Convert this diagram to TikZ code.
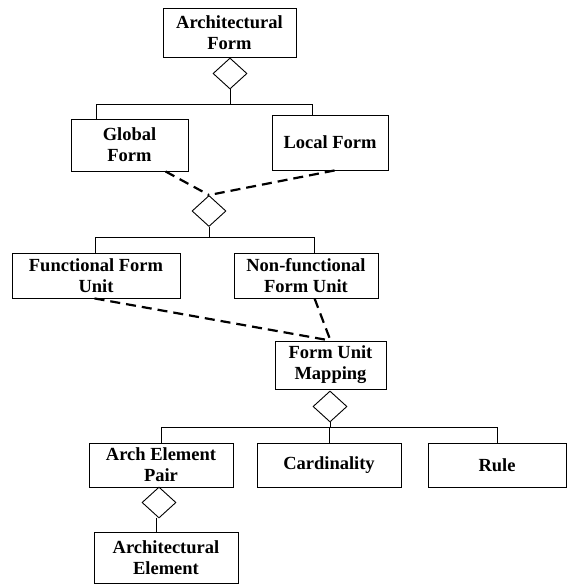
\documentclass[tikz,border=0pt]{standalone}
\usepackage{fontspec}
\setmainfont{Liberation Serif}
\usetikzlibrary{shapes.geometric,calc}
\tikzset{
  box/.style={draw, line width=0.9pt, rectangle, inner sep=0pt, align=center,
              font=\fontsize{18.5}{21}\selectfont\bfseries},
  agg/.style={draw, line width=0.9pt, diamond, inner sep=0pt,
              minimum width=34pt, minimum height=31pt},
  link/.style={line width=0.9pt},
  dep/.style={line width=2.2pt, dash pattern=on 10pt off 6pt},
}
\begin{document}
\begin{tikzpicture}[x=1pt,y=-1pt]
\useasboundingbox (0,0) rectangle (569,584);
% boxes
\node[box, minimum width=133pt, minimum height=49pt] (af)  at (229.5,32.5) {Architectural\\Form};
\node[box, minimum width=117pt, minimum height=52pt] (gf)  at (129.5,145)  {Global\\Form};
\node[box, minimum width=116pt, minimum height=55pt] (lf)  at (330,142.5)  {Local Form};
\node[box, minimum width=168pt, minimum height=45pt] (ffu) at (96,275.5)   {Functional Form\\Unit};
\node[box, minimum width=144pt, minimum height=45pt] (nfu) at (306,275.5)  {Non-functional\\Form Unit};
\node[box, minimum width=111pt, minimum height=48pt] (fum) at (330.5,365)  {Form Unit\\Mapping};
\node[box, minimum width=144pt, minimum height=44pt] (aep) at (161,465)    {Arch Element\\Pair};
\node[box, minimum width=144pt, minimum height=44pt] (card) at (329,465)   {Cardinality};
\node[box, minimum width=138pt, minimum height=44pt] (rule) at (497,465)   {Rule};
\node[box, minimum width=144pt, minimum height=51pt] (ae)  at (166,557.5)  {Architectural\\Element};
% aggregation diamonds
\node[agg] (d1) at (230,73.5) {};
\node[agg] (d2) at (209,211) {};
\node[agg] (d3) at (330,406.5) {};
\node[agg] (d4) at (159,502.5) {};
% tree connectors
\coordinate (b1) at (230,104);
\coordinate (b2) at (209,237);
\coordinate (b3) at (330,427);
\draw[link] (d1.south) -- (b1);
\draw[link] (b1) -| ([xshift=26pt]gf.north west);
\draw[link] (b1) -| ([xshift=41pt]lf.north west);
\draw[link] (d2.south) -- (b2);
\draw[link] (b2) -| ([xshift=84pt]ffu.north west);
\draw[link] (b2) -| ([xshift=81pt]nfu.north west);
\draw[link] (d3.south) -- (b3);
\draw[link] (b3) -| (aep.north);
\draw[link] (b3) -| (card.north);
\draw[link] (b3) -| (rule.north);
\draw[link] ([xshift=-3pt]d4.south) -- ([xshift=-10pt]ae.north);
% dashed dependencies
\draw[dep] ([xshift=95pt]gf.south west) -- (d2.north);
\draw[dep] ([xshift=63pt]lf.south west) -- (d2.north);
\draw[dep] ([xshift=83pt]ffu.south west) -- (fum.north);
\draw[dep] ([xshift=81pt]nfu.south west) -- (fum.north);
\end{tikzpicture}
\end{document}
